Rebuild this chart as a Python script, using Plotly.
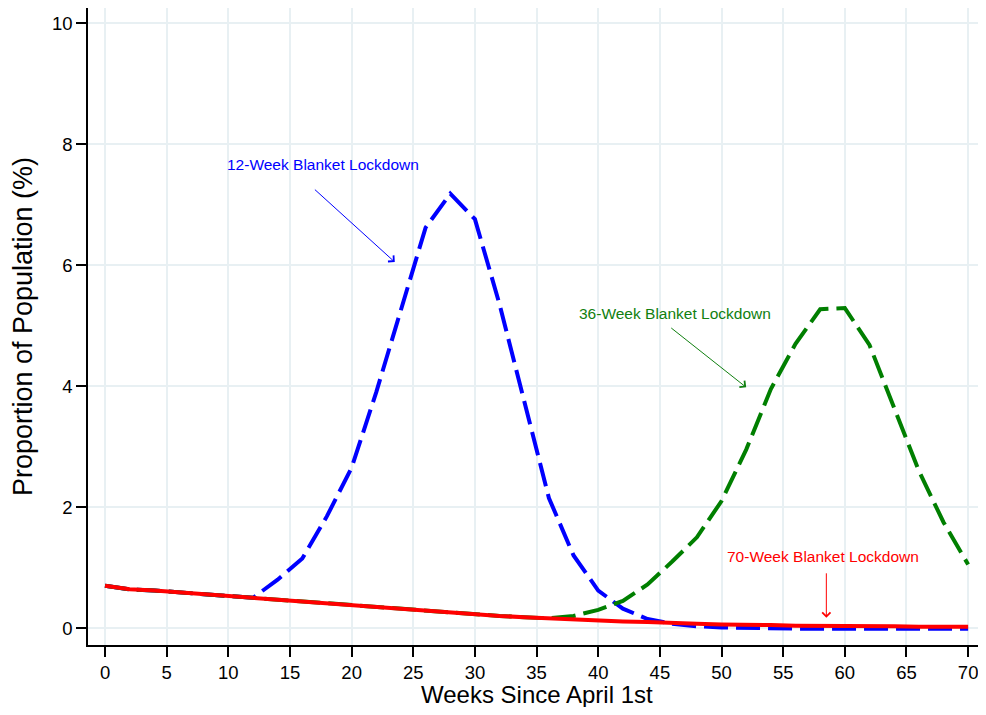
import plotly.graph_objects as go

weeks = list(range(0, 71, 2))
red_70 = [0.70, 0.64, 0.62, 0.59, 0.56, 0.53, 0.50, 0.46, 0.43, 0.40, 0.37, 0.34,
          0.31, 0.28, 0.25, 0.23, 0.20, 0.18, 0.16, 0.14, 0.12, 0.11, 0.10, 0.08,
          0.07, 0.06, 0.06, 0.05, 0.04, 0.04, 0.03, 0.03, 0.03, 0.02, 0.02, 0.02]
blue_12 = [0.70, 0.64, 0.62, 0.59, 0.56, 0.53, 0.50, 0.80, 1.15, 1.85, 2.65, 3.90,
           5.28, 6.62, 7.18, 6.76, 5.35, 3.75, 2.15, 1.20, 0.62, 0.32, 0.15, 0.07,
           0.03, 0.01, 0.0, -0.01, -0.01, -0.01, -0.01, -0.01, -0.01, -0.01, -0.01, -0.01]
green_36 = [0.70, 0.64, 0.62, 0.59, 0.56, 0.53, 0.50, 0.46, 0.43, 0.40, 0.37, 0.34,
            0.31, 0.28, 0.25, 0.23, 0.20, 0.18, 0.16, 0.20, 0.30, 0.45, 0.72, 1.10,
            1.50, 2.10, 2.95, 3.95, 4.70, 5.27, 5.29, 4.68, 3.62, 2.60, 1.75, 1.05]

x_ticks = list(range(0, 71, 5))
y_ticks = [0, 2, 4, 6, 8, 10]
x_title = "Weeks Since April 1st"
y_title = "Proportion of Population (%)"

labels = ["12-Week Blanket Lockdown", "36-Week Blanket Lockdown", "70-Week Blanket Lockdown"]
label_pos = [(17.7, 7.67), (46.2, 5.2), (58.2, 1.19)]
arrow_tail = [(16.9, 7.27), (45.8, 4.98), (58.5, 0.93)]
arrow_head = [(23.5, 6.05), (52.0, 3.98), (58.5, 0.17)]
label_colors = ["#0000ff", "#108010", "#ff0000"]

FONT = "Liberation Sans, Arial, sans-serif"

fig = go.Figure()
fig.add_trace(go.Scatter(x=weeks, y=blue_12, mode="lines",
                         line=dict(color="#0000ff", width=4, dash="24px,8px"),
                         showlegend=False))
fig.add_trace(go.Scatter(x=weeks, y=green_36, mode="lines",
                         line=dict(color="#007f00", width=4, dash="24px,8px"),
                         showlegend=False))
fig.add_trace(go.Scatter(x=weeks, y=red_70, mode="lines",
                         line=dict(color="#ff0000", width=4),
                         showlegend=False))

for txt, (lx, ly), (tx, ty), (hx, hy), c in zip(labels, label_pos, arrow_tail, arrow_head, label_colors):
    fig.add_annotation(x=lx, y=ly, text=txt, showarrow=False,
                       font=dict(size=15.5, color=c, family=FONT),
                       xanchor="center", yanchor="middle")
    fig.add_annotation(x=hx, y=hy, ax=tx, ay=ty, axref="x", ayref="y", xref="x", yref="y",
                       text="", showarrow=True, arrowhead=4, arrowsize=1.6,
                       arrowwidth=1, arrowcolor=c)

# x-axis title placed as paper annotation so it can sit below the tick labels
fig.add_annotation(x=0.504, y=-0.077, xref="paper", yref="paper", text=x_title,
                   showarrow=False, xanchor="center", yanchor="middle",
                   font=dict(size=24, color="black", family=FONT))

axis_common = dict(showline=True, linecolor="black", linewidth=1.5,
                   ticks="outside", ticklen=10, tickwidth=1.5, tickcolor="black",
                   showgrid=True, gridcolor="#e8f0f3", gridwidth=2,
                   zeroline=False, mirror=False, automargin=False,
                   ticklabeloverflow="allow",
                   tickfont=dict(size=18.5, color="black", family=FONT))

fig.update_xaxes(range=[-1.38, 70.8], tickvals=x_ticks, **axis_common)
fig.update_yaxes(range=[-0.28, 10.25], tickvals=y_ticks,
                 title=dict(text=y_title, standoff=12,
                            font=dict(size=27, color="black", family=FONT)),
                 **axis_common)

fig.update_layout(width=970, height=699, margin=dict(l=80, r=0, t=0, b=62),
                  plot_bgcolor="white", paper_bgcolor="white")

fig.write_html("out.html")
